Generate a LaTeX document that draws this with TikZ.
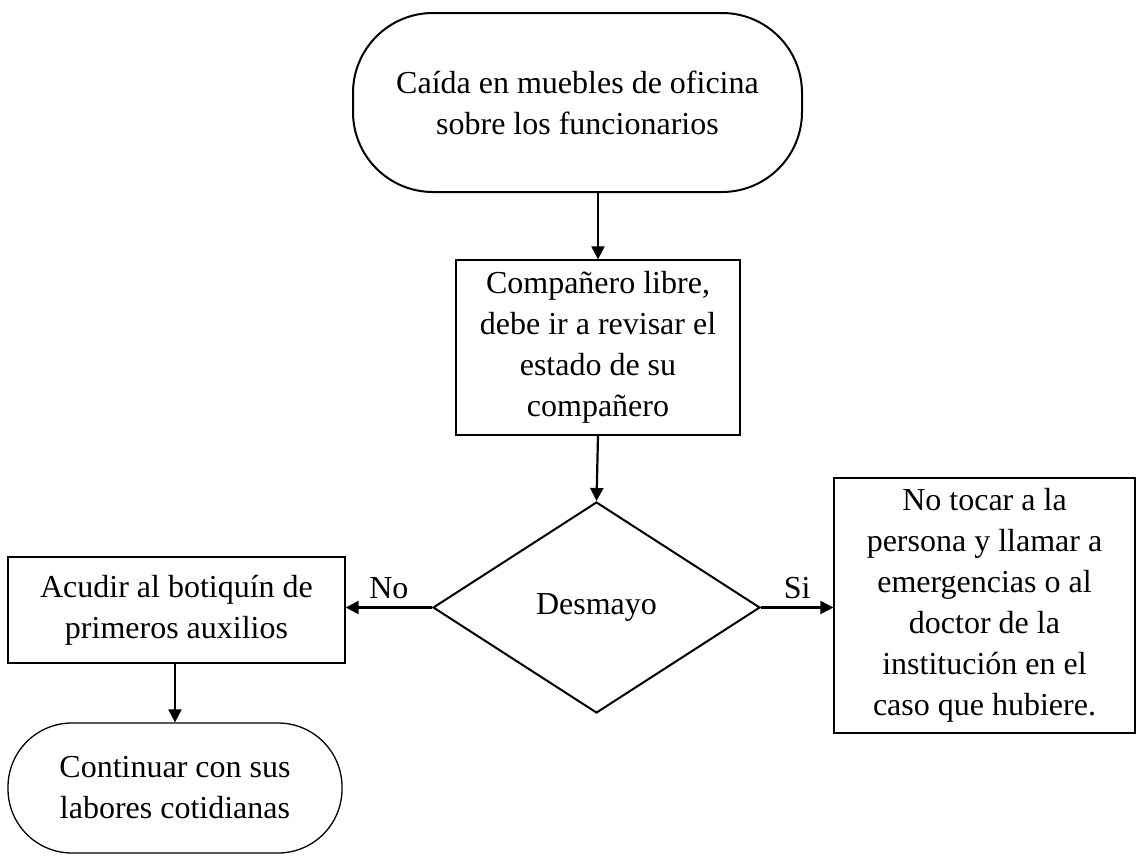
\documentclass[tikz,border=0pt]{standalone}
\usepackage{fontspec}
\setmainfont{Liberation Serif}
\usetikzlibrary{shapes.geometric, arrows.meta}
\begin{document}
\begin{tikzpicture}[x = 1pt, y = -1pt,
    font = \fontsize{32}{41}\selectfont,
    every node/.style = {align = center, inner sep = 0pt},
    terminal/.style = {draw, line width = 2pt, rounded corners = 80pt},
    process/.style = {draw, line width = 1.3pt},
    decision/.style = {draw, diamond, aspect = 1.55, line width = 2pt},
    flow/.style = {line width = 2.2pt, -{Triangle[length = 13pt, width = 13pt]}}]
  \useasboundingbox (0,0) rectangle (1136,855);
  \node [terminal, minimum width = 449pt, minimum height = 179pt]
    (inicio) at (577.5,102.5) {Caída en muebles de oficina\\sobre los funcionarios};
  \node [process, minimum width = 284pt, minimum height = 175pt]
    (revisar) at (598,347.5) {Compañero libre,\\debe ir a revisar el\\estado de su\\compañero};
  \node [decision, minimum width = 327pt, minimum height = 211pt]
    (desmayo) at (596.5,607.5) {Desmayo};
  \node [process, minimum width = 337pt, minimum height = 106pt]
    (botiquin) at (176.5,610) {Acudir al botiquín de\\primeros auxilios};
  \node [process, minimum width = 301pt, minimum height = 255pt]
    (llamar) at (984.5,605.5) {No tocar a la\\persona y llamar a\\emergencias o al\\doctor de la\\institución en el\\caso que hubiere.};
  \node [terminal, line width = 1.3pt, rounded corners = 64pt,
    minimum width = 334pt, minimum height = 130pt]
    (fin) at (175,788) {Continuar con sus\\labores cotidianas};
  \draw [flow] (revisar.north |- inicio.south) -- (revisar.north);
  \draw [flow] (revisar.south) -- (desmayo.north);
  \draw [flow] (desmayo.west) -- node [above = 8pt] {No} (desmayo.west -| botiquin.east);
  \draw [flow] (desmayo.east) -- node [above = 8pt] {Si} (desmayo.east -| llamar.west);
  \draw [flow] (botiquin.south -| fin.north) -- (fin.north);
\end{tikzpicture}
\end{document}
